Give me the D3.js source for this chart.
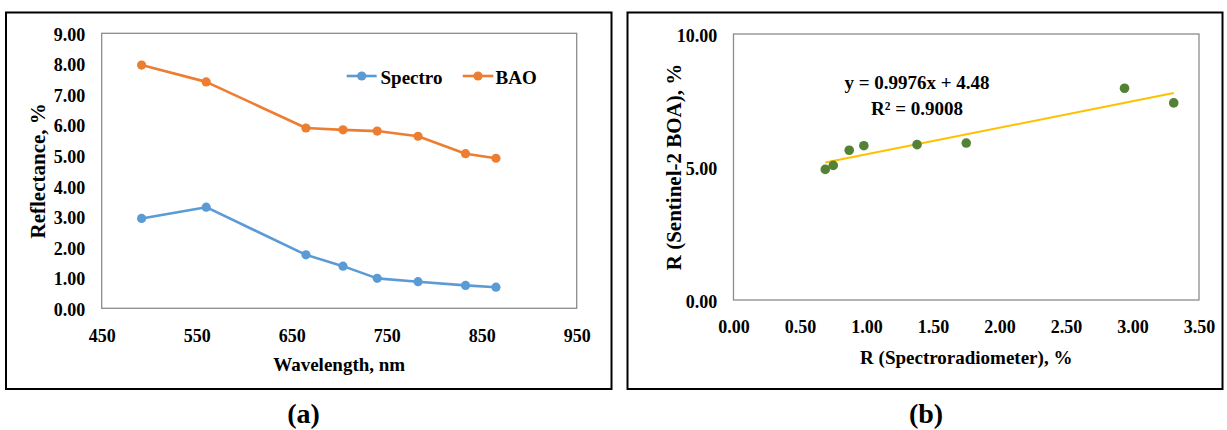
<!DOCTYPE html>
<html>
<head>
<meta charset="utf-8">
<script src="https://cdn.jsdelivr.net/npm/d3@7"></script>
<style>
  html, body { margin: 0; padding: 0; background: #fff; }
  svg { display: block; }
  text { font-family: "Liberation Serif", "Times New Roman", serif; font-weight: bold; fill: #000; }
</style>
</head>
<body>
<svg id="fig" width="1227" height="430"></svg>
<script>
// Sentinel-2 band centres (nm) and reflectance (%) per band
const wavelengths = [492, 560, 665, 704, 740, 783, 833, 865];
const spectro = [2.94, 3.31, 1.75, 1.38, 0.98, 0.87, 0.75, 0.69];
const bao = [7.96, 7.41, 5.90, 5.84, 5.80, 5.63, 5.06, 4.91];

// Axis ticks
const leftYTicks = [0, 1, 2, 3, 4, 5, 6, 7, 8, 9];
const leftXTicks = [450, 550, 650, 750, 850, 950];
const rightYTicks = [0, 5, 10];
const rightXTicks = [0, 0.5, 1, 1.5, 2, 2.5, 3, 3.5];

// Linear fit reported on panel (b)
const fitSlope = 0.9976;
const fitIntercept = 4.48;
const fitR2 = 0.9008;

const seriesNames = ["Spectro", "BAO"];
const seriesColors = ["#5B9BD5", "#ED7D31"];

const svg = d3.select("#fig");

// Panel frames
svg.append("rect").attr("x", 6).attr("y", 12.5).attr("width", 605.5).attr("height", 376.5)
  .attr("fill", "none").attr("stroke", "#000").attr("stroke-width", 2);
svg.append("rect").attr("x", 627.5).attr("y", 12.5).attr("width", 595).attr("height", 376.5)
  .attr("fill", "none").attr("stroke", "#000").attr("stroke-width", 2);

function styleAxis(g, size) {
  g.select(".domain").remove();
  g.selectAll(".tick line").remove();
  g.selectAll("text").attr("font-size", size).attr("font-family", null).attr("fill", "#000");
}

// ---------- Panel (a): reflectance spectra ----------
const A = { left: 101.7, right: 576.7, top: 33.3, bottom: 308.3 };
const xA = d3.scaleLinear().domain([450, 950]).range([A.left, A.right]);
const yA = d3.scaleLinear().domain([0, 9]).range([A.bottom, A.top]);

svg.append("rect").attr("x", A.left).attr("y", A.top)
  .attr("width", A.right - A.left).attr("height", A.bottom - A.top)
  .attr("fill", "none").attr("stroke", "#8c8c8c").attr("stroke-width", 1.3);

const ayA = svg.append("g").attr("transform", `translate(${A.left},0)`)
  .call(d3.axisLeft(yA).tickValues(leftYTicks).tickFormat(d3.format(".2f")).tickSize(0).tickPadding(16.4));
styleAxis(ayA, 18);
ayA.selectAll("text").attr("dy", 7);

const axA = svg.append("g").attr("transform", `translate(0,${A.bottom})`)
  .call(d3.axisBottom(xA).tickValues(leftXTicks).tickFormat(d3.format("d")).tickSize(0));
styleAxis(axA, 18);
axA.selectAll("text").attr("dy", null).attr("y", 33.4);

const lineA = d3.line().x((d, i) => xA(wavelengths[i])).y(d => yA(d));
[spectro, bao].forEach((vals, k) => {
  svg.append("path").datum(vals).attr("d", lineA)
    .attr("fill", "none").attr("stroke", seriesColors[k]).attr("stroke-width", 2.6)
    .attr("stroke-linejoin", "round");
  svg.append("g").selectAll("circle").data(vals).join("circle")
    .attr("cx", (d, i) => xA(wavelengths[i])).attr("cy", d => yA(d)).attr("r", 4.6)
    .attr("fill", seriesColors[k]);
});

// Legend
const legend = [
  { x1: 346.7, x2: 376.7, tx: 380.5 },
  { x1: 462.7, x2: 493.3, tx: 495.5 }
];
legend.forEach((L, k) => {
  svg.append("line").attr("x1", L.x1).attr("x2", L.x2).attr("y1", 76).attr("y2", 76)
    .attr("stroke", seriesColors[k]).attr("stroke-width", 2.6);
  svg.append("circle").attr("cx", (L.x1 + L.x2) / 2).attr("cy", 76).attr("r", 4.6).attr("fill", seriesColors[k]);
  svg.append("text").attr("x", L.tx).attr("y", 83.5).attr("font-size", 19).text(seriesNames[k]);
});

svg.append("text").attr("x", (A.left + A.right) / 2).attr("y", 370.5)
  .attr("text-anchor", "middle").attr("font-size", 19).text("Wavelength, nm");
svg.append("text").attr("transform", `translate(45,${(A.top + A.bottom) / 2}) rotate(-90)`)
  .attr("text-anchor", "middle").attr("font-size", 21).text("Reflectance, %");

svg.append("text").attr("x", 303.5).attr("y", 423).attr("text-anchor", "middle")
  .attr("font-size", 28).text("(a)");

// ---------- Panel (b): Sentinel-2 BOA vs spectroradiometer ----------
const B = { left: 733.5, right: 1199, top: 34, bottom: 300 };
const xB = d3.scaleLinear().domain([0, 3.5]).range([B.left, B.right]);
const yB = d3.scaleLinear().domain([0, 10]).range([B.bottom, B.top]);

svg.append("rect").attr("x", B.left).attr("y", B.top)
  .attr("width", B.right - B.left).attr("height", B.bottom - B.top)
  .attr("fill", "none").attr("stroke", "#8c8c8c").attr("stroke-width", 1.3);

const ayB = svg.append("g").attr("transform", `translate(${B.left},0)`)
  .call(d3.axisLeft(yB).tickValues(rightYTicks).tickFormat(d3.format(".2f")).tickSize(0).tickPadding(16.2));
styleAxis(ayB, 18);
ayB.selectAll("text").attr("dy", 7);

const axB = svg.append("g").attr("transform", `translate(0,${B.bottom})`)
  .call(d3.axisBottom(xB).tickValues(rightXTicks).tickFormat(d3.format(".2f")).tickSize(0));
styleAxis(axB, 18);
axB.selectAll("text").attr("dy", null).attr("y", 33.4);

// Trendline across the observed range
const xExt = d3.extent(spectro);
svg.append("line")
  .attr("x1", xB(xExt[0])).attr("y1", yB(fitSlope * xExt[0] + fitIntercept))
  .attr("x2", xB(xExt[1])).attr("y2", yB(fitSlope * xExt[1] + fitIntercept))
  .attr("stroke", "#FFC000").attr("stroke-width", 2);

svg.append("g").selectAll("circle").data(spectro).join("circle")
  .attr("cx", d => xB(d)).attr("cy", (d, i) => yB(bao[i])).attr("r", 4.8)
  .attr("fill", "#548235");

svg.append("text").attr("x", 917).attr("y", 88.5).attr("text-anchor", "middle").attr("font-size", 19)
  .text(`y = ${fitSlope}x + ${fitIntercept}`);
svg.append("text").attr("x", 917).attr("y", 114.5).attr("text-anchor", "middle").attr("font-size", 19)
  .text(`R² = ${fitR2}`);

svg.append("text").attr("x", (B.left + B.right) / 2).attr("y", 364)
  .attr("text-anchor", "middle").attr("font-size", 19).text("R (Spectroradiometer), %");
svg.append("text").attr("transform", `translate(680.5,${(B.top + B.bottom) / 2}) rotate(-90)`)
  .attr("text-anchor", "middle").attr("font-size", 21).text("R (Sentinel-2 BOA), %");

svg.append("text").attr("x", 926).attr("y", 423).attr("text-anchor", "middle")
  .attr("font-size", 28).text("(b)");
</script>
</body>
</html>
